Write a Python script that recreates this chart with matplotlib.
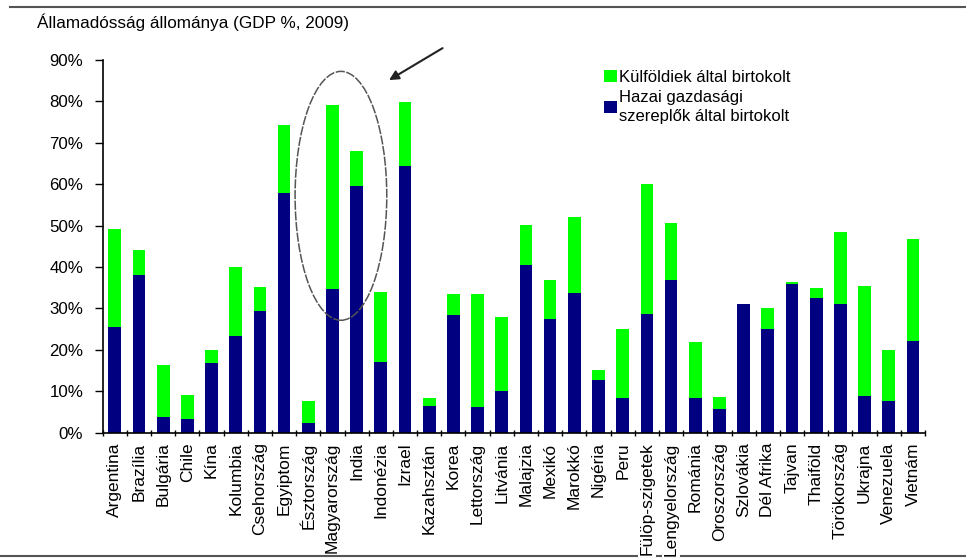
import matplotlib
matplotlib.use("Agg")
import matplotlib.pyplot as plt
from matplotlib.patches import Ellipse
from matplotlib.lines import Line2D
from matplotlib.ticker import PercentFormatter, FixedLocator
import numpy as np

plt.rcParams["font.family"] = ["Liberation Sans", "DejaVu Sans"]

# ---- data (GDP %, 2009) ------------------------------------------------------
countries = ["Argentina", "Brazília", "Bulgária", "Chile", "Kína", "Kolumbia",
             "Csehország", "Egyiptom", "Észtország", "Magyarország", "India",
             "Indonézia", "Izrael", "Kazahsztán", "Korea", "Lettország", "Litvánia",
             "Malajzia", "Mexikó", "Marokkó", "Nigéria", "Peru", "Fülöp-szigetek",
             "Lengyelország", "Románia", "Oroszország", "Szlovákia", "Dél Afrika",
             "Tajvan", "Thaiföld", "Törökország", "Ukrajna", "Venezuela", "Vietnám"]
total = [49.1, 44.1, 16.4, 9.0, 20.0, 40.0, 35.1, 74.4, 7.7, 79.2, 68.1, 34.1,
         79.8, 8.3, 33.4, 33.4, 28.0, 50.1, 36.8, 52.1, 15.1, 25.0, 60.1, 50.7,
         22.0, 8.7, 31.1, 30.0, 36.4, 35.0, 48.4, 35.4, 20.0, 46.7]
domestic = [25.5, 38.1, 3.7, 3.3, 16.8, 23.4, 29.5, 57.8, 2.4, 34.8, 59.5, 17.1,
            64.5, 6.4, 28.4, 6.1, 10.1, 40.4, 27.5, 33.7, 12.7, 8.5, 28.7, 36.9,
            8.5, 5.7, 31.1, 25.0, 35.8, 32.5, 31.1, 8.8, 7.7, 22.1]
foreign = [t - d for t, d in zip(total, domestic)]

GREEN = "#00ff00"
NAVY = "#000080"

fig = plt.figure(figsize=(9.66, 5.58), dpi=100)
ax = fig.add_axes([0.1063, 0.2245, 0.8513, 0.668])

x = np.arange(len(countries))
ax.bar(x, domestic, width=0.525, color=NAVY,
       label="Hazai gazdasági\nszereplők által birtokolt")
ax.bar(x, foreign, width=0.525, bottom=domestic, color=GREEN,
       label="Külföldiek által birtokolt")

ax.set_xlim(-0.5, len(countries) - 0.5)
ax.set_ylim(0, 90)
ax.yaxis.set_major_formatter(PercentFormatter(xmax=100, decimals=0))
ax.set_yticks(np.arange(0, 91, 10))
ax.set_xticks(x)
ax.set_xticklabels(countries, rotation=90, fontsize=12.5)
ax.xaxis.set_minor_locator(FixedLocator(np.arange(-0.5, len(countries), 1)))
ax.tick_params(axis="x", which="major", length=0, pad=7)
ax.tick_params(axis="x", which="minor", length=4, direction="inout", width=1)
ax.tick_params(axis="y", length=6, width=1, labelsize=12.2, pad=8)
for lab in ax.get_xticklabels():
    lab.set_bbox(dict(fc="white", ec="none", pad=1))
for s in ("top", "right"):
    ax.spines[s].set_visible(False)
for s in ("left", "bottom"):
    ax.spines[s].set_linewidth(1.2)

# legend: green entry first
h, l = ax.get_legend_handles_labels()
leg = fig.legend(h[::-1], l[::-1], loc="upper left",
                 bbox_to_anchor=(604 / 966, 1 - 70 / 558),
                 frameon=False, fontsize=12, handlelength=0.75, handleheight=0.75,
                 handletextpad=0.15, borderpad=0, borderaxespad=0, labelspacing=0.3)
for t in leg.get_texts():
    t.set_linespacing(1.35)

# highlight Hungary / India
ax.add_patch(Ellipse((9.35, 57.2), 3.79, 60.1, fill=False, ec="#555555", lw=1.1,
                     ls=(0, (6, 1))))
ax.annotate("", xy=(11.24, 84.8), xytext=(13.65, 93.2), annotation_clip=False,
            arrowprops=dict(arrowstyle="-|>", color="#222222", lw=1.5,
                            mutation_scale=14))

fig.text(37 / 966, 1 - 22 / 558, "Államadósság állománya (GDP %, 2009)",
         fontsize=12.3, va="center", ha="left")

# horizontal rules at top and bottom of the figure
fig.add_artist(Line2D([10 / 966, 1], [1 - 7 / 558] * 2, color="#555555", lw=1.5, zorder=-1))
fig.add_artist(Line2D([0, 1], [1 - 555.5 / 558] * 2, color="#555555", lw=1.5, zorder=-1))

fig.savefig("out.png", dpi=100)
